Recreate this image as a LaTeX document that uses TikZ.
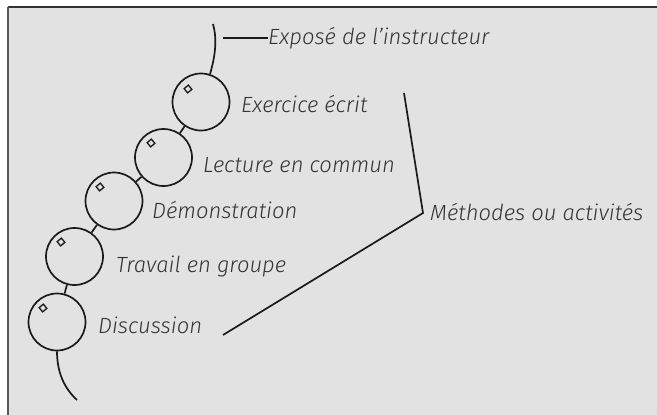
\documentclass[tikz,border=0pt]{standalone}
\usepackage{fontspec}
\newfontfamily\labfont{Fira Sans Light Italic}
\definecolor{bg}{HTML}{E2E2E2}
\definecolor{ink}{HTML}{1A1A1A}
\definecolor{txt}{HTML}{333333}
\begin{document}
\begin{tikzpicture}[x=1pt,y=-1pt,
  bead/.style={circle,draw=ink,line width=1.7pt,minimum size=57pt,inner sep=0pt},
  dot/.style={rectangle,draw=ink,line width=1.3pt,minimum size=5.5pt,inner sep=0pt,rotate=40},
  lab/.style={anchor=base west,inner sep=0pt,text=txt,font=\labfont\fontsize{22}{26}\selectfont},
  wire/.style={draw=ink,line width=1.7pt}]
\useasboundingbox (0,0) rectangle (657,415);
\fill[white] (0,0) rectangle (657,415);
\fill[bg] (8,7) rectangle (657,415);
\draw[line width=2pt,draw=black!80] (8,7) -- (657,7);
\draw[line width=2pt,draw=black!65] (8,7) -- (8,415);
% beads
\node[bead] (c1) at (201,102) {};
\node[bead] (c2) at (163.5,157.5) {};
\node[bead] (c3) at (114,201) {};
\node[bead] (c4) at (74.5,256.5) {};
\node[bead] (c5) at (57,322) {};
\node[dot] (d1) at (188,89) {};
\node[dot] (d2) at (151,143) {};
\node[dot] (d3) at (100,187) {};
\node[dot] (d4) at (61,242) {};
\node[dot] (d5) at (43,308) {};
\draw[wire] (c1) -- (c2);
\draw[wire] (c2) -- (c3);
\draw[wire] (c3) -- (c4);
\draw[wire] (c4) -- (c5);
% string ends
\coordinate (top) at (213,24);
\coordinate (bot) at (77,400);
\draw[wire] (top) .. controls (218,42) and (214,60) .. (c1.72);
\draw[wire] (c5.-90) .. controls (57,372) and (64,388) .. (bot);
% labels
\node[lab] (expose) at (268,44) {Exposé de l’instructeur};
\node[lab] (l1) at (241,112) {Exercice écrit};
\node[lab] (l2) at (203,172) {Lecture en commun};
\node[lab] (l3) at (152,218) {Démonstration};
\node[lab] (l4) at (116,272) {Travail en groupe};
\node[lab] (l5) at (98,333) {Discussion};
\node[lab] (meth) at (430,220) {Méthodes ou activités};
\coordinate (e0) at (223,38);
\draw[wire] (e0) -- (e0 -| expose.west);
\coordinate (b1) at (404,93);
\coordinate (b2) at (423,213);
\coordinate (b3) at (223,335);
\draw[wire,line join=miter] (b1) -- (b2) -- (b3);
\end{tikzpicture}
\end{document}
